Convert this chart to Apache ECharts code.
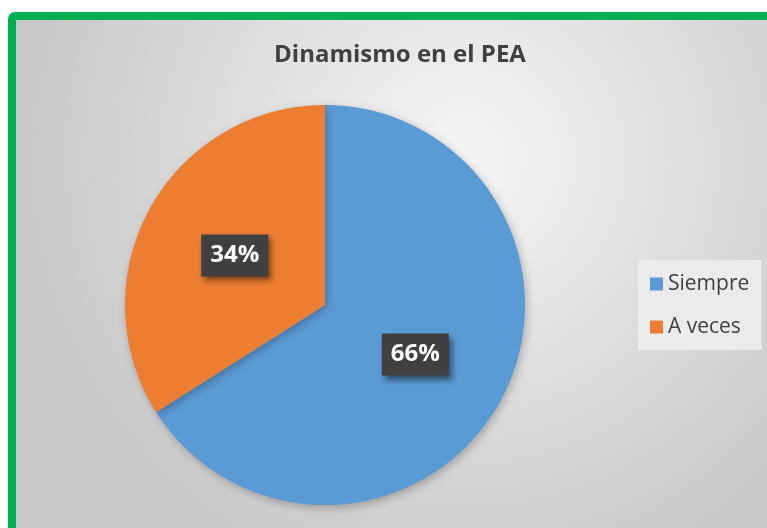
<!DOCTYPE html>
<html><head><meta charset="utf-8">
<script src="https://cdn.jsdelivr.net/npm/echarts@6/dist/echarts.min.js"></script>
<style>html,body{margin:0;padding:0;background:#fff;}#c{width:767px;height:528px;}</style>
</head><body><div id="c"></div>
<script>
const title = 'Dinamismo en el PEA';
const categories = ['Siempre', 'A veces'];
const values = [66, 34];
const colors = ['#5B9BD5', '#ED7D31'];
const chart = echarts.init(document.getElementById('c'));
const font = '"Open Sans", "Noto Sans", sans-serif';
chart.setOption({
  animation: false,
  graphic: [{
    type: 'rect', z: -10, silent: true,
    shape: { x: 12, y: 16, width: 820, height: 580, r: 3 },
    style: {
      stroke: '#00B050', lineWidth: 8,
      fill: { type: 'radial', x: 0.55, y: 0.25, r: 0.75, colorStops: [
        { offset: 0, color: '#f6f6f6' }, { offset: 1, color: '#c8c8c8' }] }
    }
  }],
  title: {
    text: title, left: 395, top: 38, textAlign: 'center',
    textStyle: { fontFamily: font, fontSize: 24, fontWeight: 'bold', color: '#404040' }
  },
  legend: {
    orient: 'vertical', left: 638, top: 260,
    backgroundColor: '#ebebeb', padding: [12, 12, 11, 12],
    itemWidth: 13, itemHeight: 13, itemGap: 19, icon: 'rect',
    textStyle: { fontFamily: font, fontSize: 21, color: '#404040', lineHeight: 24 },
    data: categories
  },
  series: [{
    type: 'pie', center: [325, 305], radius: [0, 200], startAngle: 90, clockwise: true,
    color: colors,
    data: categories.map((n, i) => ({ name: n, value: values[i] })),
    itemStyle: { shadowBlur: 8, shadowColor: 'rgba(0,0,0,0.25)', shadowOffsetX: 2, shadowOffsetY: 3 },
    label: {
      show: true, position: 'inside',
      formatter: p => p.value + '%',
      fontFamily: font, fontSize: 24, fontWeight: 'bold', color: '#fff',
      backgroundColor: '#404040', padding: [8, 9], lineHeight: 26,
      shadowBlur: 6, shadowColor: 'rgba(0,0,0,0.5)', shadowOffsetX: 3, shadowOffsetY: 4
    },
    labelLine: { show: false },
    emphasis: { disabled: true }
  }]
});
</script></body></html>
